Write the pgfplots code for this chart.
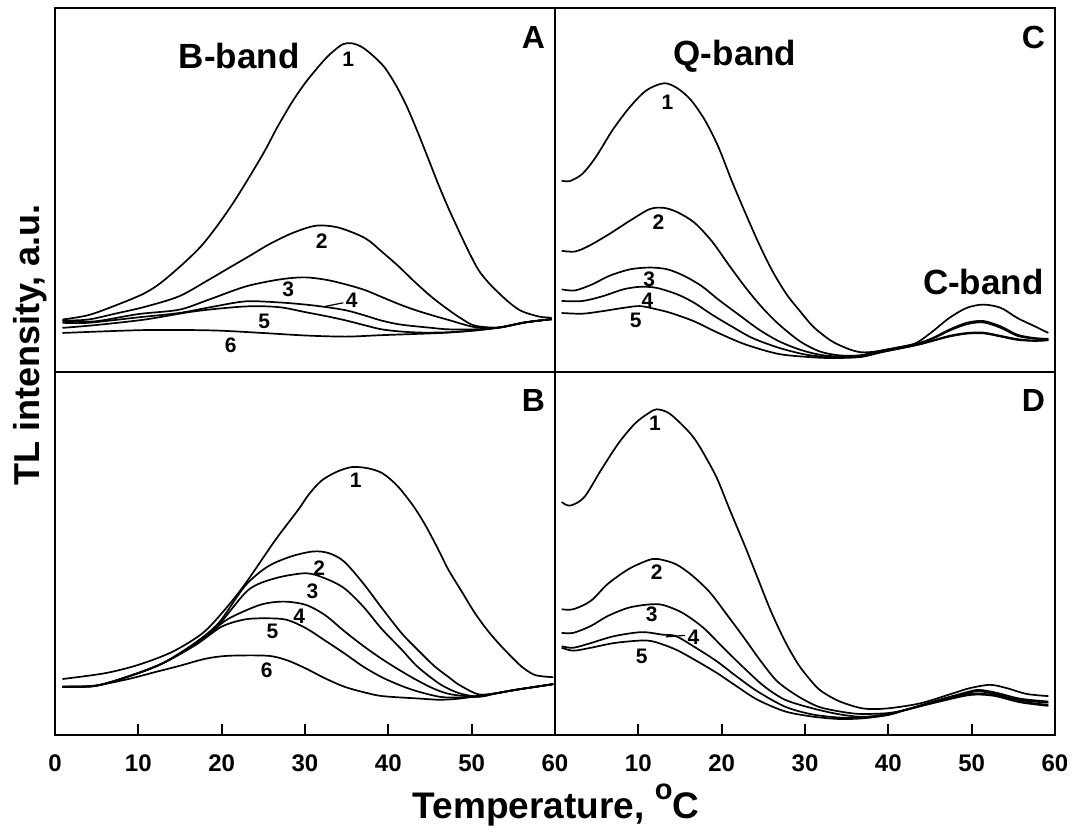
\documentclass[border=0pt]{standalone}
\usepackage{pgfplots}
\pgfplotsset{compat=1.18}
\usepackage{fontspec}
\setmainfont{Liberation Sans}
\pgfplotsset{
  cv/.style={black, solid, line width=0.85pt, smooth, tension=0.5, mark=none},
  panel/.style={
    width=250pt, height=181.75pt, scale only axis,
    xmin=0, xmax=60, ymin=0, ymax=100,
    ytick=\empty,
    axis line style={line width=1pt},
    /pgf/number format/assume math mode=true,
  },
  toppanel/.style={panel, xtick=\empty},
  botpanel/.style={panel, xtick pos=bottom, tick align=inside,
    major tick length=5.5pt, tick style={line width=0.9pt, black},
    xticklabel style={font=\fontsize{12}{13}\selectfont\bfseries, yshift=-6.5pt}},
}
\newcommand{\cl}{\fontsize{10.5}{11}\selectfont\bfseries}
\newcommand{\pl}{\fontsize{16}{17}\selectfont\bfseries}
\newcommand{\bl}{\fontsize{17.5}{18}\selectfont\bfseries}
\begin{document}
\begin{tikzpicture}
\useasboundingbox (-27.5pt,-48pt) rectangle (510pt,367.5pt);
% ---------------- Panel A ----------------
\begin{axis}[toppanel, at={(0pt,181.75pt)}, anchor=south west]
\addplot[cv] coordinates {(0.9,14.3)(4,15.5)(7.4,18.3)(10.8,21.6)(13.3,25.5)(17.5,34.4)(21.1,45.4)(24.8,59.2)(26.7,67.3)(28.5,74.3)(30.0,79.3)(31.3,83.0)(32.2,85.4)(33.1,87.5)(34.5,90.0)(35.6,90.3)(36.8,89.3)(38.0,87.2)(39.5,83.8)(40.9,78.8)(42.2,73.0)(43.5,66.0)(44.8,58.5)(46.0,51.5)(47.2,45.0)(48.4,39.0)(49.6,33.2)(50.8,28.0)(52.0,24.5)(53.3,21.5)(54.6,18.8)(56.0,16.6)(58.1,15.1)(59.6,14.8)};
\addplot[cv] coordinates {(0.9,14.0)(4,14.3)(7.4,16.0)(10.8,17.8)(14.9,20.7)(18.5,25.3)(21.1,28.8)(23.5,32.0)(25.7,35.0)(28.5,38.1)(31.3,40.1)(34.0,39.6)(37.2,36.7)(39.2,33.0)(41.2,29.0)(43.1,24.8)(45.2,20.5)(47.2,17.0)(48.8,14.5)(50.4,12.6)(53.3,12.1)(56.4,13.5)(59.6,14.4)};
\addplot[cv] coordinates {(0.9,13.8)(4.8,13.8)(10,15.8)(14.9,17.0)(18.5,19.8)(22.9,23.4)(26.9,25.3)(29.9,25.9)(32.6,25.2)(35.0,23.9)(37.2,22.4)(39.2,20.5)(41.2,18.6)(43.1,17.0)(45.2,15.5)(47.2,14.2)(50.4,12.2)(53.3,12.1)(56.4,13.5)(59.6,14.4)};
\addplot[cv] coordinates {(0.9,13.4)(4.0,13.4)(10,14.9)(14.9,16.1)(18.9,17.8)(22.9,19.3)(26.9,19.0)(30.1,18.4)(32.6,17.7)(35.0,16.8)(37.2,15.4)(39.2,14.0)(41.5,12.9)(45.2,12.0)(47.2,11.6)(50.4,11.6)(53.3,12.1)(56.4,13.5)(59.6,14.4)};
\addplot[cv] coordinates {(0.9,12.0)(5,12.8)(10.8,14.3)(16.9,16.6)(22.9,17.9)(26.9,17.7)(30.1,16.3)(32.6,15.2)(35.0,14.0)(37.2,12.7)(39.2,11.6)(41.5,11.0)(44.1,10.7)(47.2,10.8)(50.4,11.3)(53.3,12.1)(56.4,13.5)(59.6,14.4)};
\addplot[cv] coordinates {(0.9,10.6)(10.8,11.4)(18.9,11.3)(24.9,10.6)(30.1,9.9)(34.9,9.6)(39.2,10.0)(44.1,10.4)(47.2,10.7)(50.4,11.3)(53.3,12.1)(56.4,13.5)(59.6,14.4)};
\node[font=\cl] at (axis cs:35.2,85.8) {1};
\node[font=\cl] at (axis cs:32.0,35.8) {2};
\node[font=\cl] at (axis cs:28.0,22.5) {3};
\node[font=\cl] at (axis cs:35.6,19.6) {4};
\draw[line width=0.6pt] (axis cs:32.4,17.9) -- (axis cs:34.6,18.9);
\node[font=\cl] at (axis cs:25.1,13.8) {5};
\node[font=\cl] at (axis cs:21.1,7.3) {6};
\node[font=\bl] at (axis cs:22.1,86.7) {B-band};
\node[font=\pl] at (axis cs:57.4,92) {A};
\end{axis}
% ---------------- Panel C ----------------
\begin{axis}[toppanel, at={(250pt,181.75pt)}, anchor=south west]
\addplot[cv] coordinates {(0.8,52.5)(1.8,52.4)(3.3,54.4)(4.9,59.0)(6.9,66.4)(9.0,72.8)(11.0,77.4)(13.1,79.3)(14.7,77.9)(16.3,74.7)(18.0,69.1)(19.6,61.8)(21.2,52.5)(22.9,43.3)(24.5,35.0)(26.1,27.6)(27.8,21.2)(29.4,16.6)(31.0,12.3)(33.1,8.5)(35.1,6.3)(36.7,5.3)(38.5,5.5)(41,6.5)(43.3,7.8)(45.3,11.0)(47.3,14.7)(49.4,17.5)(51.4,18.4)(53.5,17.5)(55.5,14.7)(57.6,12.4)(59.2,10.6)};
\addplot[cv] coordinates {(0.8,33.2)(2.4,33.0)(4.1,34.6)(6.5,37.8)(9.0,41.5)(11.4,44.7)(13.1,45.0)(14.7,43.8)(16.7,41.0)(18.8,35.9)(20.8,29.5)(22.9,23.0)(24.9,17.5)(26.9,12.9)(29.4,8.3)(31.8,5.5)(34.3,4.4)(36.7,4.5)(39.2,5.8)(43.3,7.6)(45.3,9.2)(47.3,11.5)(49.4,13.4)(51.4,13.9)(53.5,12.4)(55.5,10.1)(57.6,9.2)(59.2,9.0)};
\addplot[cv] coordinates {(0.8,22.6)(2.4,22.3)(4.5,24.0)(6.5,26.3)(9.0,28.1)(11.4,28.6)(13.5,28.1)(15.5,26.3)(17.6,23.5)(19.6,19.8)(22.0,15.7)(24.5,11.5)(26.9,8.3)(29.4,6.0)(31.8,4.6)(34.3,4.1)(36.7,4.3)(39.2,5.6)(43.3,7.5)(45.3,9.0)(47.3,11.2)(49.4,13.0)(51.4,13.5)(53.5,12.0)(55.5,9.8)(57.6,9.0)(59.2,8.9)};
\addplot[cv] coordinates {(0.8,19.4)(3.3,19.4)(5.7,20.7)(8.2,22.6)(10.2,23.3)(12.2,23.0)(14.7,21.2)(16.7,18.9)(18.8,15.7)(21.2,12.4)(23.7,9.2)(26.9,6.5)(30.2,4.6)(33.5,3.9)(36.7,4.1)(39.2,5.4)(43.3,7.3)(45.3,8.5)(47.3,9.8)(49.4,10.6)(51.4,10.7)(53.5,9.8)(55.5,8.9)(57.6,8.5)(59.2,8.7)};
\addplot[cv] coordinates {(0.8,16.1)(3.3,15.9)(5.7,16.6)(8.2,17.5)(10.2,18.0)(12.2,17.1)(13.9,16.1)(16.7,13.8)(19.6,10.6)(22.9,7.4)(26.9,4.8)(31.0,3.9)(33.5,3.7)(36.7,4.0)(39.2,5.3)(43.3,7.2)(45.3,8.4)(47.3,9.6)(49.4,10.4)(51.4,10.5)(53.5,9.6)(55.5,8.7)(57.6,8.4)(59.2,8.6)};
\node[font=\cl] at (axis cs:13.5,74.2) {1};
\node[font=\cl] at (axis cs:12.4,41.0) {2};
\node[font=\cl] at (axis cs:11.3,25.3) {3};
\node[font=\cl] at (axis cs:11.1,19.5) {4};
\node[font=\cl] at (axis cs:9.7,14.0) {5};
\node[font=\bl] at (axis cs:21.6,86.6) {Q-band};
\node[font=\bl] at (axis cs:51.4,24.5) {C-band};
\node[font=\pl] at (axis cs:57.4,92) {C};
\end{axis}
% ---------------- Panel B ----------------
\begin{axis}[botpanel, at={(0pt,0pt)}, anchor=south west,
  xtick={0,10,20,30,40,50,60}, xticklabels={0,10,20,30,40,50,60}]
\addplot[cv] coordinates {(0.9,15.4)(6.0,17.0)(10.0,19.3)(14.1,22.9)(17.7,28.0)(20.2,34.0)(22.8,41.5)(26.4,53.5)(29.2,62.0)(30.5,66.3)(32.0,70.0)(33.8,72.4)(35.6,73.7)(37.5,73.4)(39.3,72.0)(41.1,68.5)(43.0,63.0)(44.5,57.5)(46.0,51.0)(47.2,45.5)(48.8,39.5)(50.4,33.5)(52.0,28.5)(53.6,24.3)(55.0,21.0)(56.0,18.8)(57.6,16.5)(59.8,15.9)};
\addplot[cv] coordinates {(0.9,13.3)(4.8,13.5)(8.8,16.1)(12.9,19.7)(16.9,25.5)(19.7,31.0)(22.8,41.0)(25.5,46.3)(28.3,49.1)(31.0,50.5)(32.9,50.0)(34.7,47.7)(37.0,41.7)(39.2,35.0)(41.6,28.0)(43.5,23.5)(45.5,19.0)(47.2,16.0)(48.5,13.8)(50.8,11.2)(53,11.5)(55.2,12.4)(57.5,13.2)(59.8,14.0)};
\addplot[cv] coordinates {(0.9,13.3)(4.8,13.5)(8.8,16.1)(12.9,19.7)(16.9,25.3)(19.7,30.5)(23.2,39.9)(26.4,43.1)(30.1,44.5)(32.4,43.1)(34.7,40.4)(37.0,35.3)(39.2,29.2)(41.6,23.5)(43.5,18.8)(46.2,14.0)(48.5,11.5)(50.8,10.6)(53,11.5)(55.2,12.4)(57.5,13.2)(59.8,14.0)};
\addplot[cv] coordinates {(0.9,13.3)(4.8,13.5)(8.8,16.1)(12.9,19.7)(16.9,25.0)(19.0,28.8)(20.9,32.1)(24.6,35.8)(27.4,36.7)(30.1,35.8)(32.4,33.0)(34.7,28.6)(37.0,24.5)(39.3,20.8)(41.6,17.5)(43.5,15.0)(45.5,12.7)(47.5,11.2)(50.8,10.5)(53,11.5)(55.2,12.4)(57.5,13.2)(59.8,14.0)};
\addplot[cv] coordinates {(0.9,13.3)(4.8,13.5)(8.8,16.1)(12.9,19.7)(16.9,24.8)(20.0,29.8)(22.8,31.8)(25.5,32.1)(27.8,31.7)(30.1,29.4)(32.4,26.0)(34.7,22.5)(37.0,18.8)(39.3,15.8)(41.6,13.5)(43.5,12.0)(46.2,10.5)(48.5,10.3)(50.8,10.6)(53,11.5)(55.2,12.4)(57.5,13.2)(59.8,14.0)};
\addplot[cv] coordinates {(0.9,13.3)(4.8,13.6)(8.8,15.4)(12.0,17.3)(14.9,19.0)(18.1,21.0)(20.9,21.8)(25.5,21.8)(27.8,20.6)(30.1,18.3)(32.4,15.6)(34.7,13.3)(37.0,11.8)(39.3,10.7)(43.9,10.0)(46.2,9.7)(48.5,10.0)(50.8,10.8)(53,11.5)(55.2,12.4)(57.5,13.2)(59.8,14.0)};
\node[font=\cl] at (axis cs:36.1,70.2) {1};
\node[font=\cl] at (axis cs:31.7,45.9) {2};
\node[font=\cl] at (axis cs:30.9,39.4) {3};
\node[font=\cl] at (axis cs:29.3,32.6) {4};
\node[font=\cl] at (axis cs:26.1,28.4) {5};
\node[font=\cl] at (axis cs:25.4,17.9) {6};
\node[font=\pl] at (axis cs:57.4,92) {B};
\end{axis}
% ---------------- Panel D ----------------
\begin{axis}[botpanel, at={(250pt,0pt)}, anchor=south west,
  xtick={10,20,30,40,50,60}, xticklabels={10,20,30,40,50,60}]
\addplot[cv] coordinates {(0.8,64.1)(1.8,63.1)(3.5,65.4)(5.5,72.8)(7.6,80.2)(9.6,85.7)(11.2,88.5)(12.2,89.6)(13.7,88.5)(15.7,84.3)(16.8,81.3)(17.8,77.6)(19.4,70.8)(21.0,61.8)(22.7,52.5)(24.3,43.3)(25.9,34.1)(27.6,25.8)(29.2,19.4)(30.8,14.7)(32.0,12.0)(34.2,9.2)(37.0,7.3)(39.8,7.3)(43.8,8.7)(47.8,11.5)(49.8,12.9)(52.2,13.8)(54.2,12.9)(56.6,11.3)(59.2,10.7)};
\addplot[cv] coordinates {(0.8,34.6)(2.2,34.6)(4.3,36.9)(6.3,41.5)(8.8,45.6)(11.2,48.1)(12.4,48.4)(14.5,47.0)(16.5,43.8)(18.6,39.2)(20.6,33.2)(22.7,26.7)(24.7,20.3)(26.7,14.7)(29.2,10.6)(31.6,7.8)(34.1,6.5)(36.5,5.8)(39.8,6.0)(42,6.9)(45.8,9.5)(49.8,12.0)(51.0,12.4)(53,11.6)(55.8,10.0)(59.2,9.2)};
\addplot[cv] coordinates {(0.8,28.1)(2.2,28.1)(4.3,30.0)(6.3,32.7)(8.8,35.0)(11.2,35.9)(12.9,35.8)(15.3,33.6)(17.8,29.5)(20.2,24.0)(22.7,18.4)(25.1,13.4)(27.6,9.7)(30.8,7.4)(34.1,5.7)(37,5.0)(40,5.8)(42,6.9)(45.8,9.3)(49.8,11.7)(51,12.0)(53,11.2)(55.8,9.6)(59.2,8.9)};
\addplot[cv] coordinates {(0.8,24.4)(2.2,24.0)(4.3,25.3)(7.1,27.2)(10.4,28.3)(12.9,27.6)(14.5,27.2)(16.9,24.0)(19.4,20.3)(21.8,16.1)(24.3,12.0)(27.6,7.8)(30.8,5.7)(34.1,4.8)(37,4.8)(40,5.7)(42,6.9)(45.8,9.2)(49.8,11.3)(52.6,11.0)(55.8,9.2)(59.2,8.3)};
\addplot[cv] coordinates {(0.8,24.0)(2.2,23.2)(4.3,24.0)(7.1,25.3)(10.4,26.0)(12.0,25.6)(14.5,23.5)(16.9,20.5)(19.4,17.1)(21.8,13.4)(24.3,9.7)(27.6,6.5)(30.8,5.1)(34.1,4.4)(37,4.6)(40,5.5)(42,6.8)(45.8,9.0)(49.8,11.0)(52.6,10.8)(55.8,9.0)(59.2,8.0)};
\node[font=\cl] at (axis cs:12.0,85.7) {1};
\node[font=\cl] at (axis cs:12.2,44.7) {2};
\node[font=\cl] at (axis cs:11.6,33.2) {3};
\node[font=\cl] at (axis cs:16.6,26.8) {4};
\draw[line width=0.6pt] (axis cs:13.3,27.0) -- (axis cs:15.6,27.4);
\node[font=\cl] at (axis cs:10.4,21.7) {5};
\node[font=\pl] at (axis cs:57.4,92) {D};
\end{axis}
% ---------------- axis titles ----------------
\node[rotate=90, anchor=base, font=\fontsize{18}{19}\selectfont\bfseries] at (-7.5pt,195pt) {TL intensity, a.u.};
\node[anchor=base, font=\fontsize{18.5}{19}\selectfont\bfseries] at (250.5pt,-41.5pt) {Temperature, \raisebox{0.5em}{\fontsize{14.5}{15}\selectfont o}C};
\end{tikzpicture}
\end{document}
